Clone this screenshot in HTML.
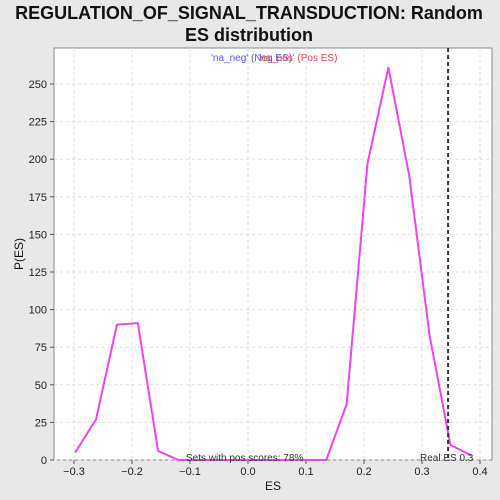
<!DOCTYPE html>
<html><head><meta charset="utf-8"><style>
body{margin:0;background:#e8e8e8;font-family:"Liberation Sans","DejaVu Sans",sans-serif}
svg{display:block}
</style></head><body>
<svg id="c" width="500" height="500" xmlns="http://www.w3.org/2000/svg">
<rect x="0" y="0" width="500" height="500" fill="#e8e8e8"/>
<text x="249" y="19" text-anchor="middle" font-size="18" font-weight="bold" fill="#111">REGULATION_OF_SIGNAL_TRANSDUCTION: Random</text>
<text x="249" y="41" text-anchor="middle" font-size="18" font-weight="bold" fill="#111">ES distribution</text>
<rect x="54" y="48" width="438" height="412" fill="#fff" stroke="#888"/>
<g id="grid"></g><g id="axes"></g>
<polyline id="line" fill="none" stroke="#ee44ee" stroke-width="2"/>
<line id="realline" y1="48" y2="460" stroke="#333" stroke-width="2" stroke-dasharray="4,3"/>
<text x="211" y="61" font-size="10" fill="#5555ee">'na_neg' (Neg ES)</text>
<text x="258" y="61" font-size="10" fill="#ee4444">'na_pos' (Pos ES)</text>
<text x="186" y="461" font-size="10" fill="#333">Sets with pos scores: 78%</text>
<text x="420" y="461" font-size="10" fill="#333">Real ES 0.3</text>
<text x="273" y="490" text-anchor="middle" font-size="12" fill="#111">ES</text>
<text x="23" y="254" text-anchor="middle" font-size="12" fill="#111" transform="rotate(-90 23 254)">P(ES)</text>
</svg>
<script>
const esValues=[-0.298,-0.262,-0.226,-0.19,-0.155,-0.12,-0.085,-0.05,-0.015,0.02,0.055,0.09,0.135,0.17,0.206,0.242,0.278,0.313,0.349,0.385];
const densities=[5,27,90,91,6,0,0,0,0,0,0,0,0,37,197,261,189,83,10,3];
const xTicks=[-0.3,-0.2,-0.1,0.0,0.1,0.2,0.3,0.4];
const yTicks=[0,25,50,75,100,125,150,175,200,225,250];
const realES=[0.345];
const xs=v=>248+v*580, ys=v=>460-v*1.504;
const NS='http://www.w3.org/2000/svg';
const g=document.getElementById('grid'), a=document.getElementById('axes');
function mk(p,t,at){const e=document.createElementNS(NS,t);for(const k in at)e.setAttribute(k,at[k]);p.appendChild(e);return e;}
xTicks.forEach(t=>{const x=xs(t);
 const l=mk(g,'line',{x1:x,x2:x,y1:48,y2:460,stroke:'#ddd','stroke-dasharray':'3,3'});
 
 
 const k=mk(a,'line',{x1:x,x2:x,y1:460,y2:464,stroke:'#555'});
 
 
 const s=mk(a,'text',{x:x,y:475,'text-anchor':'middle','font-size':'11',fill:'#222'});
 s.textContent=(t<0?'\u2212':'')+Math.abs(t).toFixed(1);
 
 });
yTicks.forEach(t=>{const y=ys(t);
 const l=mk(g,'line',{x1:54,x2:492,y1:y,y2:y,stroke:'#ddd','stroke-dasharray':'3,3'});
 
 
 const k=mk(a,'line',{x1:50,x2:54,y1:y,y2:y,stroke:'#555'});
 
 
 const s=mk(a,'text',{x:47,y:y+4,'text-anchor':'end','font-size':'11',fill:'#222'});
 s.textContent=t;
 
 });
document.getElementById('line').setAttribute('points',esValues.map((v,i)=>xs(v)+','+ys(densities[i])).join(' '));
const rl=document.getElementById('realline');rl.setAttribute('x1',xs(realES[0]));rl.setAttribute('x2',xs(realES[0]));
</script>
</body></html>
